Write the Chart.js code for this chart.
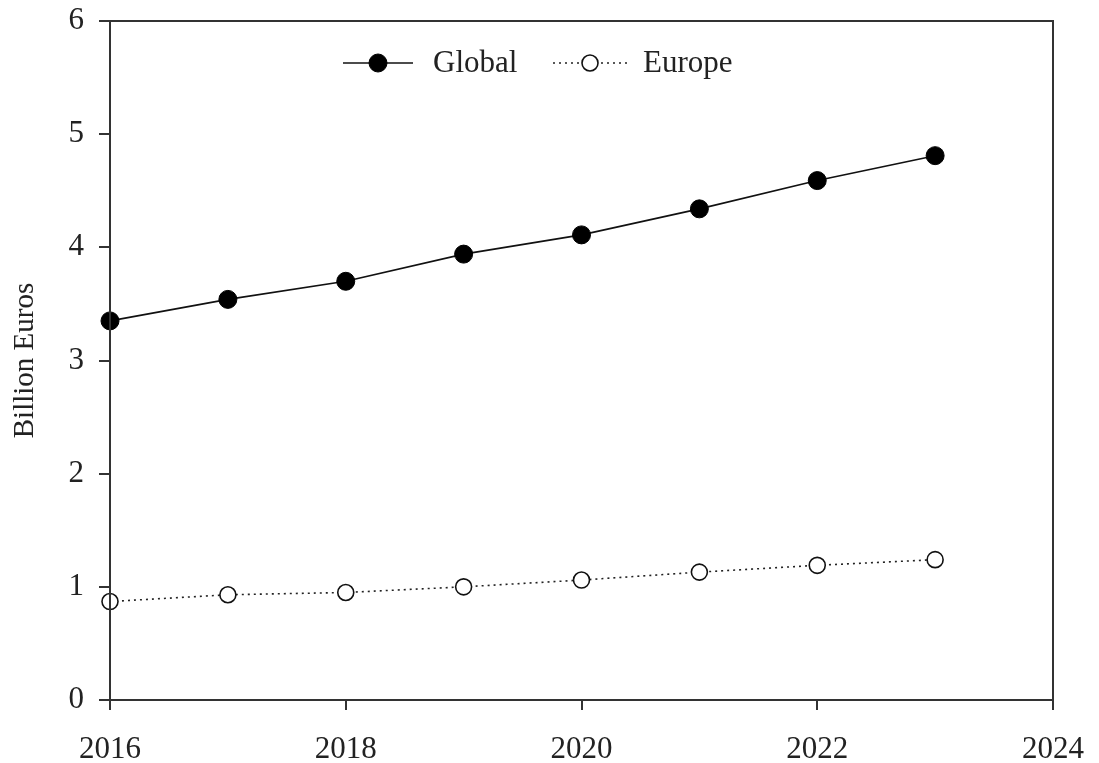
<!DOCTYPE html>
<html>
<head>
<meta charset="utf-8">
<script src="https://cdn.jsdelivr.net/npm/chart.js@4"></script>
<style>
html,body{margin:0;padding:0;background:#fff;}
#wrap{width:1099px;height:763px;}
</style>
</head>
<body>
<div id="wrap"><canvas id="c" width="1099" height="763"></canvas></div>
<script>
const years = [2016, 2017, 2018, 2019, 2020, 2021, 2022, 2023];
const globalValues = [3.35, 3.54, 3.70, 3.94, 4.11, 4.34, 4.59, 4.81];
const europeValues = [0.87, 0.93, 0.95, 1.00, 1.06, 1.13, 1.19, 1.24];
const xTicks = [2016, 2018, 2020, 2022, 2024];
const yTicks = [0, 1, 2, 3, 4, 5, 6];
const seriesNames = ['Global', 'Europe'];
const yTitle = 'Billion Euros';

const FONT = '"Liberation Serif", "DejaVu Serif", serif';

const frame = {
  id: 'frame',
  afterDraw(chart) {
    const {ctx, chartArea: a} = chart;
    ctx.save();
    ctx.strokeStyle = '#333';
    ctx.lineWidth = 2;
    ctx.strokeRect(a.left, a.top, a.right - a.left, a.bottom - a.top);
    // legend inside the plot area
    const y = a.top + 42;
    const items = [
      {ds: chart.data.datasets[0], x0: 343, x1: 413, tx: 433},
      {ds: chart.data.datasets[1], x0: 553, x1: 627, tx: 643}
    ];
    items.forEach(it => {
      const ds = it.ds;
      ctx.beginPath();
      ctx.setLineDash(ds.borderDash || []);
      ctx.strokeStyle = ds.borderColor;
      ctx.lineWidth = ds.borderWidth;
      ctx.moveTo(it.x0, y); ctx.lineTo(it.x1, y);
      ctx.stroke();
      ctx.setLineDash([]);
      ctx.beginPath();
      ctx.arc((it.x0 + it.x1) / 2, y, ds.pointRadius, 0, Math.PI * 2);
      ctx.fillStyle = ds.pointBackgroundColor;
      ctx.fill();
      ctx.lineWidth = ds.pointBorderWidth;
      ctx.strokeStyle = ds.pointBorderColor;
      ctx.stroke();
      ctx.fillStyle = '#222';
      ctx.font = '31px ' + FONT;
      ctx.textBaseline = 'middle';
      ctx.textAlign = 'left';
      ctx.fillText(ds.label, it.tx, y + 1);
    });
    ctx.restore();
  }
};

new Chart(document.getElementById('c'), {
  type: 'line',
  data: {
    datasets: [
      {
        label: seriesNames[0],
        data: years.map((x, i) => ({x, y: globalValues[i]})),
        borderColor: '#111',
        borderWidth: 1.6,
        pointRadius: 9,
        pointBackgroundColor: '#000',
        pointBorderColor: '#000',
        pointBorderWidth: 1,
        clip: false,
        tension: 0
      },
      {
        label: seriesNames[1],
        data: years.map((x, i) => ({x, y: europeValues[i]})),
        borderColor: '#222',
        borderWidth: 1.6,
        borderDash: [2, 4],
        pointRadius: 8,
        pointBackgroundColor: '#fff',
        pointBorderColor: '#111',
        pointBorderWidth: 1.6,
        clip: false,
        tension: 0
      }
    ]
  },
  options: {
    responsive: false,
    animation: false,
    devicePixelRatio: 1,
    layout: {padding: {left: 0, top: 21, right: 46, bottom: 0}},
    plugins: {legend: {display: false}, tooltip: {enabled: false}},
    scales: {
      x: {
        type: 'linear',
        min: 2016, max: 2024,
        afterBuildTicks: s => { s.ticks = xTicks.map(v => ({value: v})); },
        afterFit: s => { s.height = 63; s.paddingLeft = 0; s.paddingRight = 0; },
        grid: {display: true, drawOnChartArea: false, drawTicks: true, tickLength: 10, color: '#333', lineWidth: 2},
        border: {display: true, color: '#333', width: 2},
        ticks: {
          callback: v => String(v),
          color: '#222',
          font: {family: FONT, size: 31},
          padding: 21,
          maxRotation: 0,
          autoSkip: false
        }
      },
      y: {
        min: 0, max: 6,
        afterBuildTicks: s => { s.ticks = yTicks.map(v => ({value: v})); },
        afterFit: s => { s.width = 110; s.paddingTop = 0; s.paddingBottom = 0; },
        grid: {display: true, drawOnChartArea: false, drawTicks: true, tickLength: 11, color: '#333', lineWidth: 2},
        border: {display: true, color: '#333', width: 2},
        title: {display: true, text: yTitle, color: '#222', font: {family: FONT, size: 29}, padding: {top: 8, bottom: 2}},
        ticks: {
          callback: v => String(v),
          color: '#222',
          font: {family: FONT, size: 31},
          padding: 15
        }
      }
    }
  },
  plugins: [frame]
});
</script>
</body>
</html>
